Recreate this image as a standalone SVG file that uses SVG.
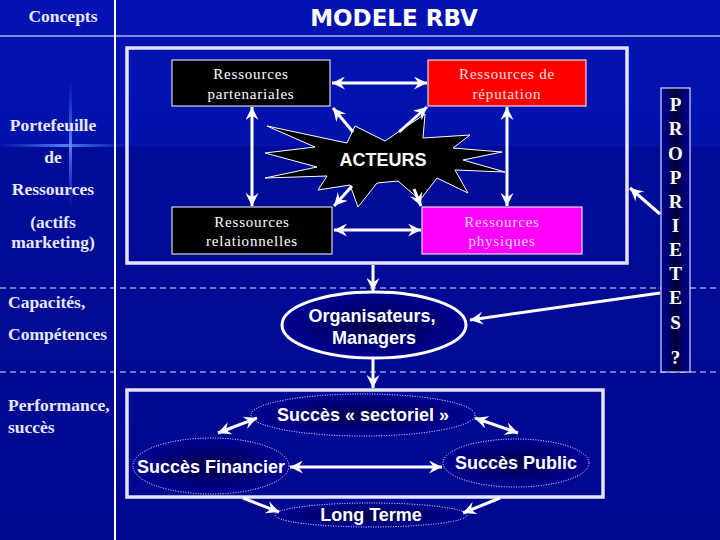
<svg xmlns="http://www.w3.org/2000/svg" width="720" height="540" viewBox="0 0 720 540">
<defs>
<linearGradient id="bg" x1="0" y1="0" x2="0" y2="1">
<stop offset="0" stop-color="#0412b2"/>
<stop offset="0.27" stop-color="#0412ac"/>
<stop offset="0.27" stop-color="#000c98"/>
<stop offset="1" stop-color="#00088e"/>
</linearGradient>
<radialGradient id="eg" cx="0.5" cy="0.5" r="0.6">
<stop offset="0" stop-color="#000048"/>
<stop offset="1" stop-color="#0000a4"/>
</radialGradient>
<linearGradient id="pg" x1="0" y1="0" x2="1" y2="0">
<stop offset="0" stop-color="#00009a"/>
<stop offset="0.5" stop-color="#000038"/>
<stop offset="1" stop-color="#00009a"/>
</linearGradient>
<linearGradient id="flv" x1="0" y1="0" x2="0" y2="1">
<stop offset="0" stop-color="#4a7cff" stop-opacity="0"/>
<stop offset="0.5" stop-color="#6a9cff" stop-opacity="0.8"/>
<stop offset="1" stop-color="#4a7cff" stop-opacity="0"/>
</linearGradient>
<linearGradient id="flh" x1="0" y1="0" x2="1" y2="0">
<stop offset="0" stop-color="#4a7cff" stop-opacity="0"/>
<stop offset="0.5" stop-color="#6a9cff" stop-opacity="0.8"/>
<stop offset="1" stop-color="#4a7cff" stop-opacity="0"/>
</linearGradient>
<marker id="ah" viewBox="0 0 10 10" refX="10" refY="5" markerWidth="13" markerHeight="13" markerUnits="userSpaceOnUse" orient="auto-start-reverse">
<path d="M0,0 L10,5 L0,10 L3.5,5 z" fill="#ffffff"/>
</marker>
</defs>
<style>
.lbl{font-family:"Liberation Serif","Times New Roman",serif;font-weight:bold;font-size:17.5px;fill:#e8e8ff}
.box{font-family:"Liberation Serif","Times New Roman",serif;font-size:15px;fill:#ffffff;letter-spacing:0.8px;text-anchor:middle}
.sans{font-family:"Liberation Sans",Arial,sans-serif;font-weight:bold;font-size:18px;fill:#ffffff;text-anchor:middle}
.prop{font-family:"Liberation Serif","Times New Roman",serif;font-weight:bold;font-size:19px;fill:#ffffff;text-anchor:middle}
.frame{fill:none;stroke:#e4e4f6;stroke-width:3.5}
.dash{stroke:#e0e0ff;stroke-width:1;stroke-dasharray:6,4}
.arrb{stroke:#ffffff;stroke-width:3;fill:none;marker-end:url(#ah)}
.arr2{stroke:#ffffff;stroke-width:3;fill:none;marker-start:url(#ah);marker-end:url(#ah)}
.dot{fill:url(#eg);stroke:#ffffff;stroke-width:1;stroke-dasharray:1,1.5}
</style>
<rect x="0" y="0" width="720" height="540" fill="url(#bg)"/>
<rect x="69" y="80" width="3" height="130" fill="url(#flv)"/>
<rect x="0" y="144" width="130" height="3" fill="url(#flh)"/>
<line x1="115" y1="0" x2="115" y2="540" stroke="#ffffff" stroke-width="2"/>
<line x1="0" y1="36" x2="720" y2="36" stroke="#ffffff" stroke-width="1"/>
<line class="dash" x1="0" y1="288" x2="720" y2="288"/>
<line class="dash" x1="0" y1="372" x2="720" y2="372"/>
<g id="titles">
<text x="63" y="22" class="lbl" text-anchor="middle">Concepts</text>
<text x="394" y="26" font-family="DejaVu Sans,Verdana,sans-serif" font-weight="bold" font-size="23" fill="#ffffff" text-anchor="middle">MODELE RBV</text>
</g>
<g id="left-labels">
<text x="53" y="131" class="lbl" text-anchor="middle">Portefeuille</text>
<text x="53" y="163" class="lbl" text-anchor="middle">de</text>
<text x="53" y="195" class="lbl" text-anchor="middle">Ressources</text>
<text x="53" y="228" class="lbl" text-anchor="middle">(actifs</text>
<text x="53" y="248" class="lbl" text-anchor="middle">marketing)</text>
<text x="8" y="308" class="lbl">Capacités,</text>
<text x="8" y="340" class="lbl">Compétences</text>
<text x="8" y="411" class="lbl">Performance,</text>
<text x="8" y="433" class="lbl">succès</text>
</g>
<g id="ressources-frame"><rect class="frame" x="127" y="48" width="500" height="215"/></g>
<g id="acteurs">
<polygon points="267,126 347,143 355,126 385,141 425,114 423,138 470,135 453,148 502,152 463,160 505,172 455,170 468,193 437,178 420,200 398,181 377,183 358,207 350,185 318,190 327,176 265,178 317,167 265,153 315,147" fill="#000000" stroke="#ffffff" stroke-width="1"/>
<text x="383" y="166" class="sans" font-size="17">ACTEURS</text>
</g>
<g id="res-partenariales">
<rect x="172" y="60" width="158" height="46" fill="#000000" stroke="#ffffff" stroke-width="1"/>
<text x="251" y="79" class="box">Ressources</text>
<text x="251" y="99" class="box">partenariales</text>
</g>
<g id="res-reputation">
<rect x="428" y="60" width="158" height="46" fill="#ff0000" stroke="#ffffff" stroke-width="1"/>
<text x="507" y="79" class="box" style="fill:#ffe0e0">Ressources de</text>
<text x="507" y="99" class="box" style="fill:#ffe0e0">réputation</text>
</g>
<g id="res-relationnelles">
<rect x="172" y="207" width="160" height="47" fill="#000000" stroke="#ffffff" stroke-width="1"/>
<text x="252" y="227" class="box">Ressources</text>
<text x="252" y="246" class="box">relationnelles</text>
</g>
<g id="res-physiques">
<rect x="422" y="207" width="160" height="47" fill="#ff00ff" stroke="#ffffff" stroke-width="1"/>
<text x="502" y="227" class="box" style="fill:#ffd8ff">Ressources</text>
<text x="502" y="246" class="box" style="fill:#ffd8ff">physiques</text>
</g>
<g id="proprietes">
<rect x="661" y="88" width="29" height="284" fill="url(#pg)" stroke="#ffffff" stroke-width="1"/>
<text x="675.5" y="111" class="prop">P</text>
<text x="675.5" y="135" class="prop">R</text>
<text x="675.5" y="160" class="prop">O</text>
<text x="675.5" y="184" class="prop">P</text>
<text x="675.5" y="208" class="prop">R</text>
<text x="675.5" y="232" class="prop">I</text>
<text x="675.5" y="256" class="prop">E</text>
<text x="675.5" y="280" class="prop">T</text>
<text x="675.5" y="304" class="prop">E</text>
<text x="675.5" y="329" class="prop">S</text>
<text x="675.5" y="364" class="prop">?</text>
</g>
<g id="organisateurs">
<ellipse cx="374" cy="325" rx="92" ry="33" fill="url(#eg)" stroke="#ffffff" stroke-width="3"/>
<text x="372" y="322" class="sans">Organisateurs,</text>
<text x="374" y="344" class="sans">Managers</text>
</g>
<g id="succes-frame"><rect class="frame" x="127" y="390" width="476" height="107" stroke-width="3"/></g>
<g id="succes-sectoriel">
<ellipse class="dot" cx="363" cy="415" rx="112" ry="21"/>
<text x="363" y="421" class="sans">Succès « sectoriel »</text>
</g>
<g id="succes-financier">
<ellipse class="dot" cx="211" cy="466" rx="78" ry="28"/>
<text x="211" y="473" class="sans">Succès Financier</text>
</g>
<g id="succes-public">
<ellipse class="dot" cx="516" cy="463" rx="73" ry="24"/>
<text x="516" y="469" class="sans">Succès Public</text>
</g>
<g id="long-terme">
<ellipse class="dot" cx="371" cy="515" rx="96" ry="12"/>
<text x="371" y="521" class="sans">Long Terme</text>
</g>
<g id="connectors">
<line class="arr2" x1="332" y1="83" x2="427" y2="83"/>
<line class="arr2" x1="334" y1="230" x2="421" y2="230"/>
<line class="arr2" x1="252" y1="107" x2="252" y2="206"/>
<line class="arr2" x1="507" y1="107" x2="507" y2="206"/>
<line class="arrb" x1="353" y1="132" x2="333" y2="108"/>
<line class="arrb" x1="399" y1="132" x2="427" y2="107"/>
<line class="arrb" x1="352" y1="186" x2="334" y2="206"/>
<line class="arrb" x1="414" y1="189" x2="421" y2="206"/>
<line class="arrb" x1="373" y1="265" x2="373" y2="291"/>
<line class="arrb" x1="373" y1="359" x2="373" y2="388"/>
<line class="arrb" x1="660" y1="293" x2="470" y2="320"/>
<line class="arrb" x1="660" y1="214" x2="630" y2="188"/>
<line class="arr2" x1="218" y1="433" x2="257" y2="418"/>
<line class="arr2" x1="475" y1="418" x2="518" y2="433"/>
<line class="arr2" x1="290" y1="467" x2="442" y2="467"/>
<line class="arrb" x1="243" y1="498" x2="279" y2="512"/>
<line class="arrb" x1="500" y1="498" x2="463" y2="513"/>
</g>
</svg>
